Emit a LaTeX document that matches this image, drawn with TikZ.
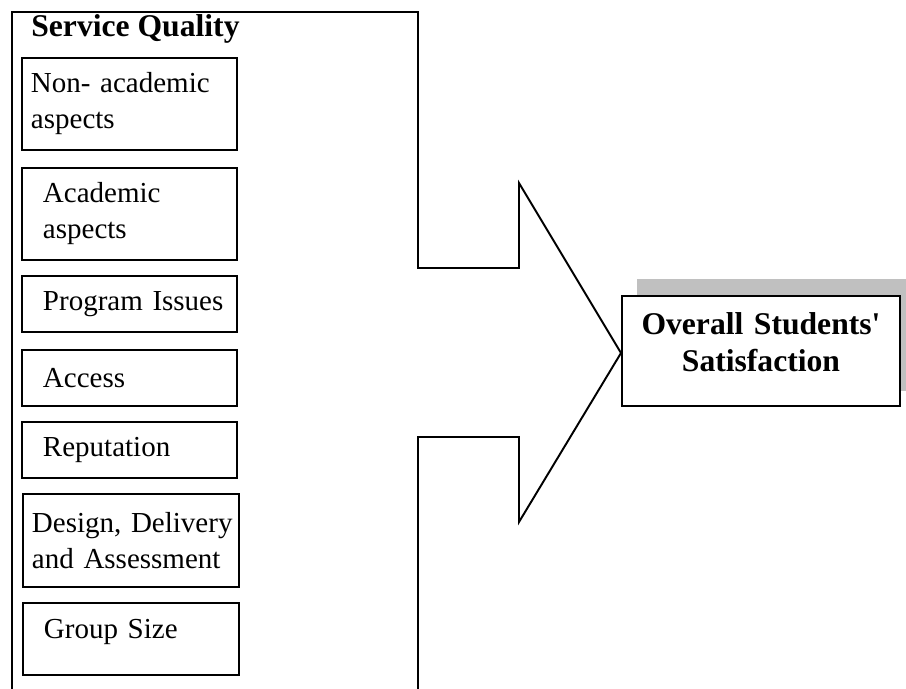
\documentclass[tikz,border=0pt]{standalone}
\usepackage{fontspec}
\setmainfont{Liberation Serif}
\usepackage{tikz}
\usetikzlibrary{calc,backgrounds}
\definecolor{shadowgray}{RGB}{192,192,192}
\newcommand{\rulewidth}{1.1pt}
\newcommand{\padwide}{\hspace*{0.42cm}}
\newcommand{\padnarrow}{\hspace*{0.18cm}}

\begin{document}
\begin{tikzpicture}[
  factor/.style={draw, line width=\rulewidth, text width=4.3cm, inner xsep=0pt, inner ysep=2pt, align=left, font=\fontsize{16.5}{20.5}\selectfont},
  outcome/.style={draw, fill=white, line width=\rulewidth, text width=5.56cm, minimum height=2.2cm, inner xsep=0pt, align=center, font=\fontsize{18}{21}\selectfont\bfseries}]
\useasboundingbox (0,0) rectangle (18.12,-13.78);
%frame
\draw[line width=\rulewidth] (0.24,-13.78) -- (0.24,-0.24) -- (8.36,-0.24) -- (8.36,-5.36) -- (10.38,-5.36) -- (10.38,-3.66) -- (12.42,-7.06) -- (10.38,-10.44) -- (10.38,-8.74) -- (8.36,-8.74) -- (8.36,-13.78);
\node[anchor=base west, inner sep=0pt, font=\fontsize{18}{21}\selectfont\bfseries] (title) at (0.62,-0.74) {Service Quality};
%factors
\node[factor, minimum height=1.84cm] (nonacad) at (2.59,-2.08) {\padnarrow Non- academic\\\padnarrow aspects};
\node[factor, minimum height=1.84cm] (acad) at (2.59,-4.28) {\padwide Academic\\\padwide aspects};
\node[factor, minimum height=1.12cm] (program) at (2.59,-6.08) {\padwide Program Issues};
\node[factor, minimum height=1.12cm] (access) at (2.59,-7.56) {\padwide Access};
\node[factor, minimum height=1.12cm] (reputation) at (2.59,-9.00) {\padwide Reputation};
\node[factor, text width=4.32cm, minimum height=1.86cm] (design) at (2.62,-10.81) {\padnarrow Design, Delivery\\\padnarrow and Assessment};
\node[factor, text width=4.32cm, minimum height=1.44cm, text depth=0.39cm] (group) at (2.62,-12.78) {\padwide Group Size};
%outcome
\node[outcome, text depth=1.08cm] (overall) at (15.22,-7.02) {Overall Students\textquotesingle\\Satisfaction};
\begin{scope}[on background layer]
\fill[shadowgray] ($(overall.south west)+(0.32,0.32)$) rectangle ($(overall.north east)+(0.32,0.32)$);
\end{scope}
\end{tikzpicture}
\end{document}
